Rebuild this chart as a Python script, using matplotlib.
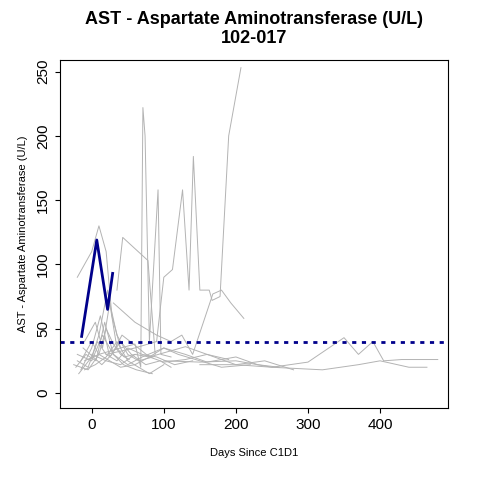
import matplotlib.pyplot as plt

plt.rcParams['font.family'] = ['Liberation Sans', 'DejaVu Sans']

# grey lines: other patients (days, AST)
other_days = [
    [-20, 0, 10, 20, 28, 40],
    [35, 43, 78, 88],
    [20, 60, 90, 100, 112, 126, 135, 141, 150, 163, 167, 178, 190, 207],
    [30, 60, 90, 110, 125, 140, 168, 180, 193, 211],
    [-10, 10, 40, 60, 68, 71, 74, 80, 92, 96, 110],
    [100, 150, 200, 250, 300, 350, 370, 390, 405, 430, 460, 480],
    [150, 200, 250, 320, 370, 400, 440, 465],
    [-25, -5, 10, 25, 40, 60, 80, 100, 130, 160, 200, 240, 280],
    [-20, 0, 15, 30, 50, 70, 100, 120, 150, 180, 220],
    [-15, 0, 12, 25, 40, 55, 75, 95, 110],
    [-10, 5, 15, 25, 35, 50, 65, 85],
    [-20, -5, 8, 20, 35, 50, 70, 90, 115, 140],
    [-18, 0, 10, 22, 35, 45, 60],
    [-12, 2, 14, 28, 42, 58, 80, 105, 130, 160, 190],
    [-22, -8, 6, 18, 30, 44, 62, 84],
    [-15, 0, 10, 20, 30, 40, 52],
    [0, 20, 40, 60, 80, 100, 130, 160, 200, 230, 260],
    [-10, 5, 20, 35, 50, 65, 80, 100],
]
other_ast = [
    [90, 110, 130, 110, 60, 35],
    [80, 121, 103, 30],
    [30, 35, 40, 90, 96, 158, 80, 184, 80, 80, 72, 75, 200, 253],
    [70, 55, 45, 40, 45, 30, 77, 80, 70, 58],
    [25, 30, 35, 38, 20, 222, 200, 40, 158, 30, 28],
    [25, 24, 25, 20, 24, 43, 30, 40, 25, 26, 26, 26],
    [22, 22, 20, 18, 22, 25, 20, 20],
    [22, 18, 30, 25, 20, 22, 28, 24, 26, 30, 22, 25, 18],
    [30, 25, 45, 30, 22, 28, 35, 30, 25, 20, 22],
    [18, 35, 60, 28, 40, 30, 22, 25, 20],
    [40, 55, 35, 70, 45, 30, 25, 28],
    [25, 20, 40, 30, 25, 35, 30, 28, 22, 25],
    [15, 28, 45, 80, 35, 28, 30],
    [35, 28, 22, 30, 45, 38, 28, 32, 36, 30, 26],
    [20, 30, 25, 55, 30, 22, 18, 15],
    [25, 40, 30, 50, 38, 30, 26],
    [30, 25, 22, 30, 28, 35, 30, 24, 28, 22, 20],
    [18, 22, 28, 40, 25, 20, 15, 22],
]

# highlighted patient 102-017
pt_days = [-14, 7, 22, 29]
pt_ast = [44, 119, 65, 93]
uln = 40

fig, ax = plt.subplots(figsize=(4.8, 4.8), dpi=100)
fig.subplots_adjust(left=0.125, right=0.933, top=0.875, bottom=0.15)

for d, v in zip(other_days, other_ast):
    ax.plot(d, v, color='#b3b3b3', lw=0.7)
ax.plot(pt_days, pt_ast, color='#00008b', lw=2)
ax.axhline(uln, color='#00008b', lw=2, ls=(0, (1.5, 2)))

ax.set_xlim(-44, 494)
ax.set_ylim(-11.7, 259)
ax.set_xticks([0, 100, 200, 300, 400])
ax.set_yticks([0, 50, 100, 150, 200, 250])
ax.tick_params(labelsize=11)
for lab in ax.get_yticklabels():
    lab.set_rotation(90)
    lab.set_va('center')
ax.set_xlabel('Days Since C1D1', fontsize=8, labelpad=12)
ax.set_ylabel('AST - Aspartate Aminotransferase (U/L)', fontsize=8, labelpad=6)
ax.set_title('AST - Aspartate Aminotransferase (U/L)\n102-017', fontsize=13,
             fontweight='bold', pad=12)

plt.savefig('out.png', dpi=100)
